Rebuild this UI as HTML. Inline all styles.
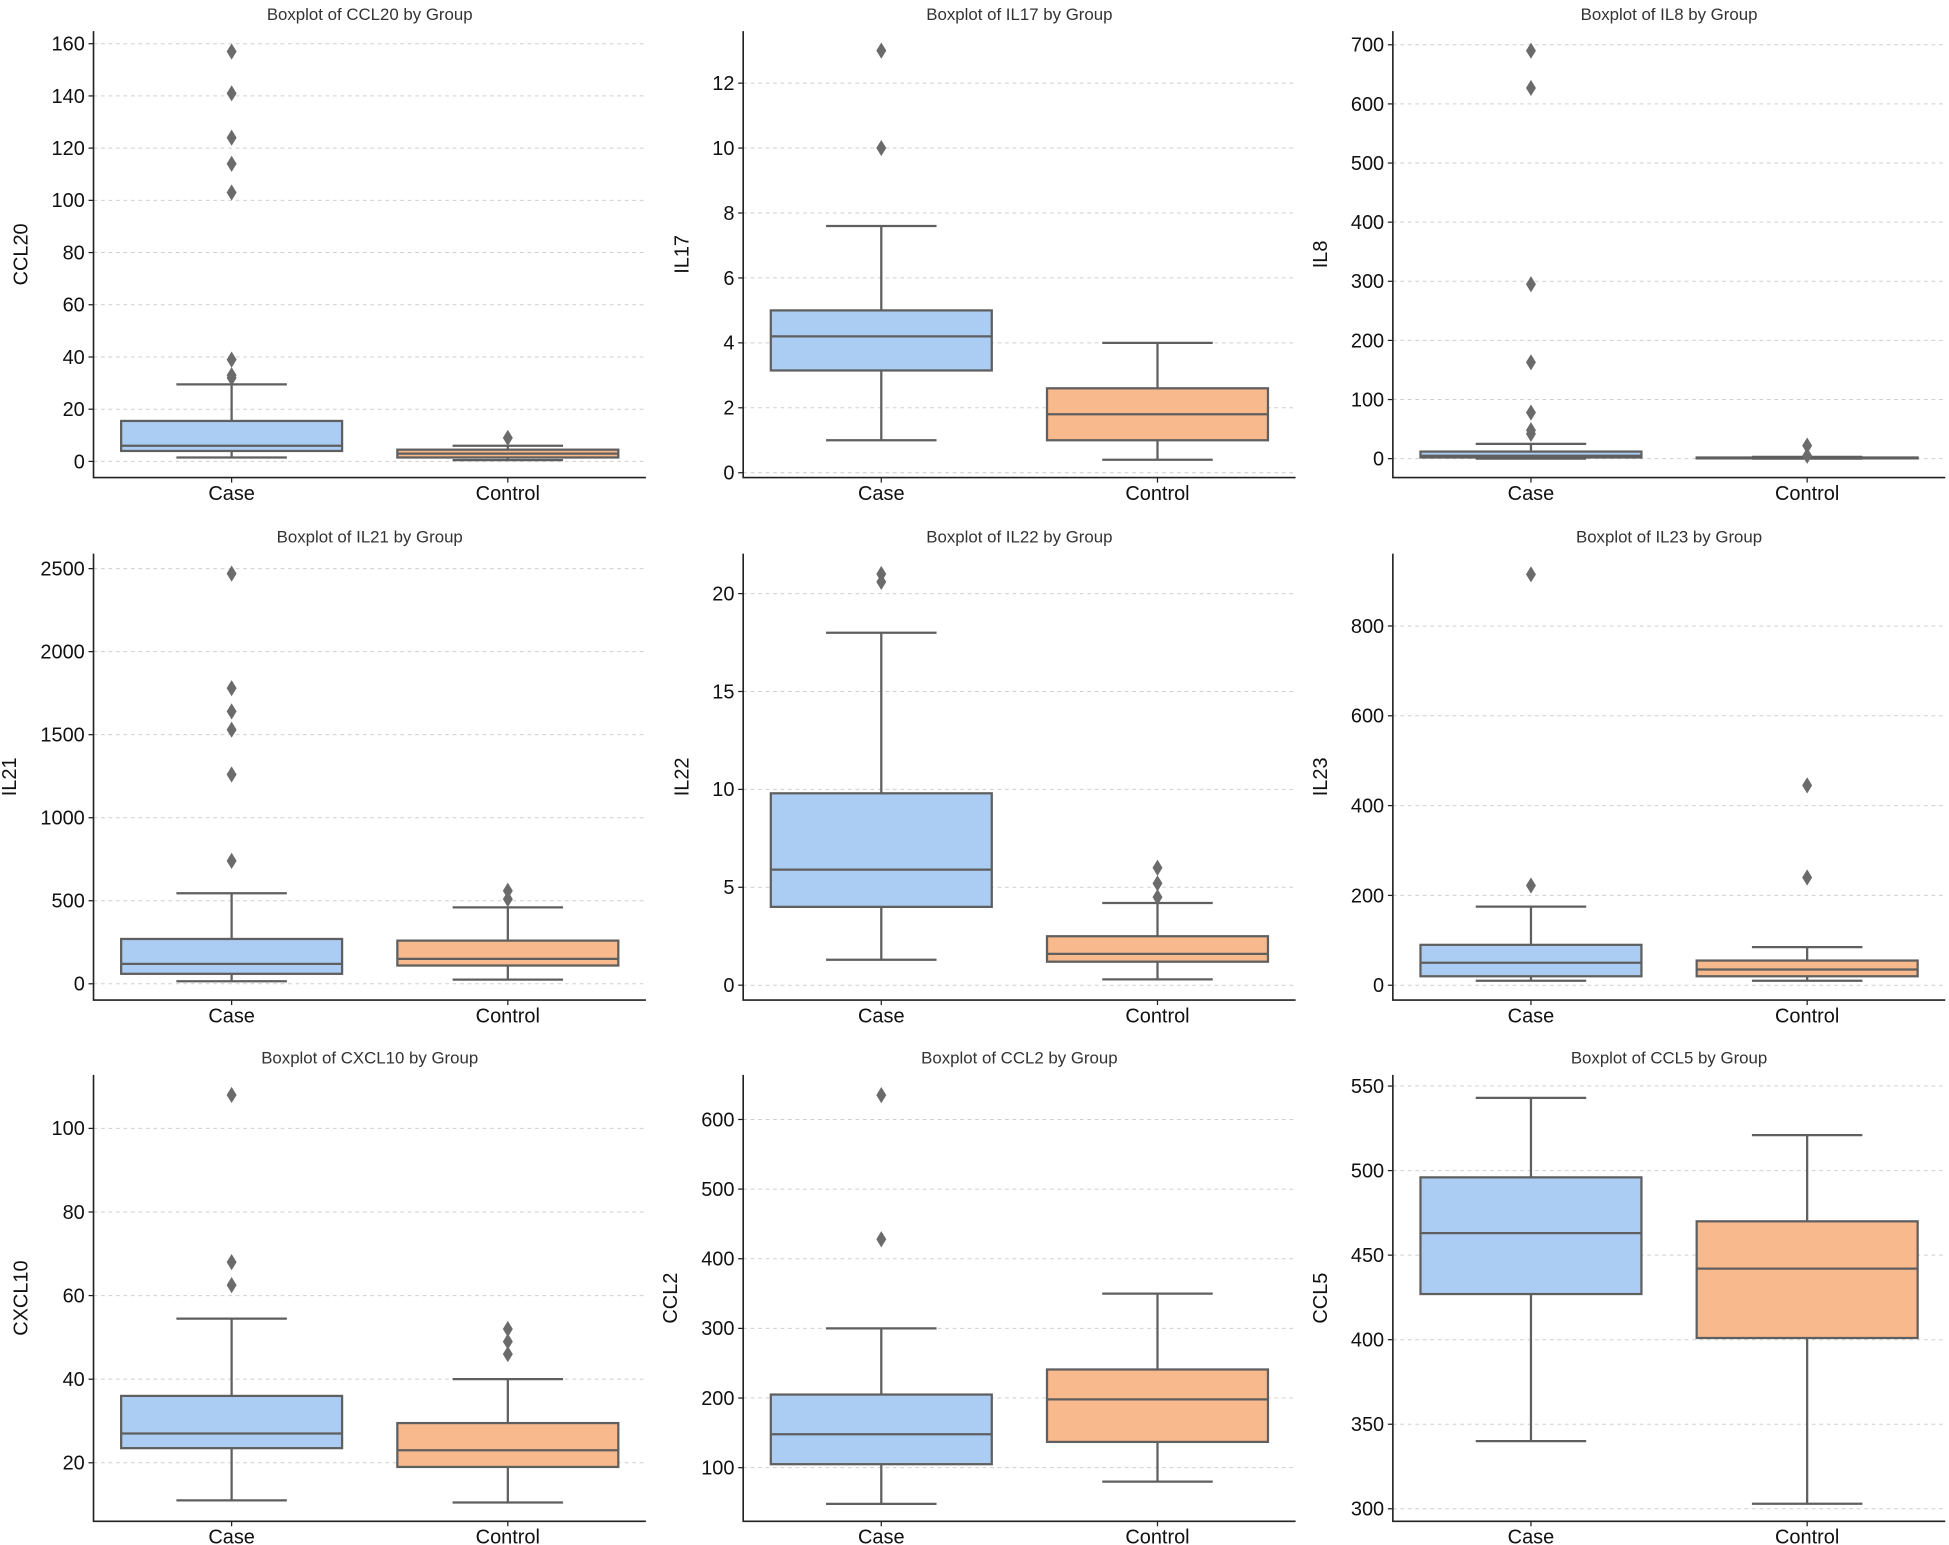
<!DOCTYPE html>
<html><head><meta charset="utf-8">
<style>
html,body{margin:0;padding:0;background:#fff;}
svg{display:block;font-family:"Liberation Sans","DejaVu Sans",sans-serif;}
</style></head>
<body>
<svg id="fig" width="1949" height="1545" viewBox="0 0 1563 1239" xmlns="http://www.w3.org/2000/svg"></svg>
<script>
const categories = ["Case", "Control"];
const panelNames = ["CCL20","IL17","IL8","IL21","IL22","IL23","CXCL10","CCL2","CCL5"];
// [whiskerLow, q1, median, q3, whiskerHigh] per group
const caseStats = [
  [1.5,4,6,15.5,29.5],
  [1,3.15,4.2,5,7.6],
  [0,2,5,12,25],
  [15,60,120,270,545],
  [1.3,4,5.9,9.8,18],
  [10,20,50,90,175],
  [11,23.5,27,36,54.5],
  [48,105,148,205,300],
  [340,427,463,496,543]
];
const controlStats = [
  [0.5,1.5,3,4.5,6],
  [0.4,1,1.8,2.6,4],
  [0,0.5,1,2,3],
  [25,110,150,260,460],
  [0.3,1.2,1.6,2.5,4.2],
  [10,20,35,55,85],
  [10.5,19,23,29.5,40],
  [80,137,198,241,350],
  [303,401,442,470,521]
];
const caseOutliers = [
  [157,141,124,114,103,39,33,32],
  [13,10],
  [690,627,295,163,78,48,42],
  [2470,1780,1640,1530,1260,740],
  [21,20.6],
  [915,222],
  [108,68,62.5],
  [635,428],
  []
];
const controlOutliers = [
  [9],
  [],
  [22,5],
  [560,510],
  [6,5.2,4.5],
  [445,240],
  [52,49,46],
  [],
  []
];
// tick values per panel
const tickValues = [
  [0,20,40,60,80,100,120,140,160],
  [0,2,4,6,8,10,12],
  [0,100,200,300,400,500,600,700],
  [0,500,1000,1500,2000,2500],
  [0,5,10,15,20],
  [0,200,400,600,800],
  [20,40,60,80,100],
  [100,200,300,400,500,600],
  [300,350,400,450,500,550]
];
// axis ranges per panel (data units at axis bottom / top)
const yRanges = [
  [-6.2,164.8],[-0.15,13.6],[-32,723],[-98,2590],[-0.76,22.04],[-33,961],[6,112.8],[23,664],[292.6,556.6]
];

const NS="http://www.w3.org/2000/svg";
const svg=document.getElementById('fig');
function mk(tag,attrs,parent){const e=document.createElementNS(NS,tag);for(const k in attrs)e.setAttribute(k,attrs[k]);(parent||svg).appendChild(e);return e;}

const colLeft=[75,596,1117], W=443, rowBottom=[383,802,1220], H=358;
const colors=["#abcdf3","#f8b98c"], lineC="#5f5f5f";

panelNames.forEach((name,p)=>{
  const L=colLeft[p%3], B=rowBottom[Math.floor(p/3)], T=B-H, R=L+W;
  const [y0,y1]=yRanges[p];
  const ys=v=>B-(v-y0)/(y1-y0)*H;
  const xs=i=>L+W*(0.25+0.5*i);
  const g=mk('g',{});
  
  
  const title=mk('text',{x:L+W/2,y:T-9,'text-anchor':'middle','font-size':13.5,fill:'#333'},g);
  title.textContent='Boxplot of '+name+' by Group';
  
  
  let maxChars=0;
  tickValues[p].forEach(t=>{
    const y=ys(t);
    const gl=mk('line',{x1:L,x2:R,y1:y,y2:y,stroke:'#cfcfcf','stroke-width':0.8,'stroke-dasharray':'3,3'},g);
    
    
    mk('line',{x1:L-4,x2:L,y1:y,y2:y,stroke:'#222','stroke-width':1},g);
    const tl=mk('text',{x:L-7,y:y+5.5,'text-anchor':'end','font-size':16,fill:'#111'},g);
    tl.textContent=String(t);
    
    
    maxChars=Math.max(maxChars,String(t).length);
  });
  const lx=L-(26+9*maxChars);
  const yl=mk('text',{x:lx,y:T+H/2,'text-anchor':'middle','font-size':16,fill:'#111',transform:`rotate(-90 ${lx} ${T+H/2})`},g);
  yl.textContent=name;
  
  
  const stats=[caseStats[p],controlStats[p]], outs=[caseOutliers[p],controlOutliers[p]];
  const bw=W*0.5*0.8;
  categories.forEach((c,i)=>{
    const x=xs(i), s=stats[i];
    const bg=mk('g',{},g);
    
    
    mk('line',{x1:x,x2:x,y1:ys(s[0]),y2:ys(s[1]),stroke:lineC,'stroke-width':1.8},bg);
    mk('line',{x1:x,x2:x,y1:ys(s[3]),y2:ys(s[4]),stroke:lineC,'stroke-width':1.8},bg);
    mk('line',{x1:x-bw/4,x2:x+bw/4,y1:ys(s[0]),y2:ys(s[0]),stroke:lineC,'stroke-width':1.8},bg);
    mk('line',{x1:x-bw/4,x2:x+bw/4,y1:ys(s[4]),y2:ys(s[4]),stroke:lineC,'stroke-width':1.8},bg);
    mk('rect',{x:x-bw/2,y:ys(s[3]),width:bw,height:Math.max(0.5,ys(s[1])-ys(s[3])),fill:colors[i],stroke:lineC,'stroke-width':1.8},bg);
    mk('line',{x1:x-bw/2,x2:x+bw/2,y1:ys(s[2]),y2:ys(s[2]),stroke:lineC,'stroke-width':1.8},bg);
    outs[i].forEach(v=>{
      const y=ys(v);
      const d=mk('path',{d:`M${x} ${y-6.5}L${x+4} ${y}L${x} ${y+6.5}L${x-4} ${y}Z`,fill:'#6b6b6b'},bg);
      
      
    });
    mk('line',{x1:x,x2:x,y1:B,y2:B+4,stroke:'#222','stroke-width':1},g);
    const xl=mk('text',{x:x,y:B+18,'text-anchor':'middle','font-size':16,fill:'#111'},g);
    xl.textContent=c;
    
    
  });
  const ax=mk('path',{d:`M${L} ${T}V${B}H${R}`,fill:'none',stroke:'#222','stroke-width':1.3},g);
  
  
});
</script>
</body></html>
